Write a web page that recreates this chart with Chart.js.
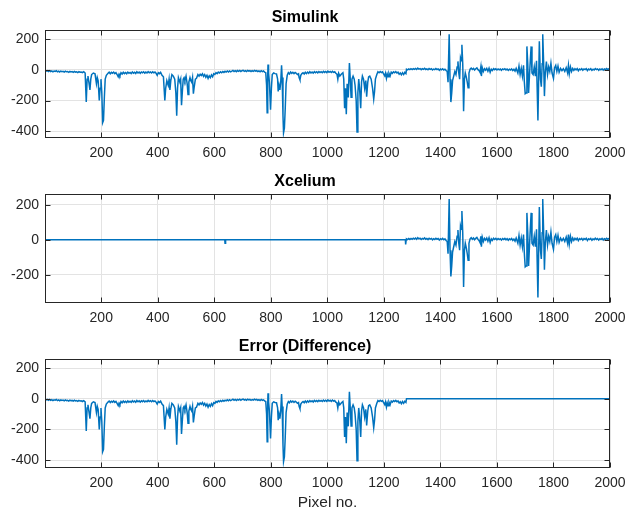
<!DOCTYPE html>
<html>
<head>
<meta charset="utf-8">
<script src="https://cdn.jsdelivr.net/npm/chart.js@4/dist/chart.umd.min.js"></script>
<style>
  body { margin: 0; background: #fff; }
  .box { position: absolute; left: 0; width: 626px; }
</style>
</head>
<body>
<div class="box" style="top:0px"><canvas id="simChart" width="626" height="163"></canvas></div>
<div class="box" style="top:164px"><canvas id="xcelChart" width="626" height="165"></canvas></div>
<div class="box" style="top:329px"><canvas id="errChart" width="626" height="184"></canvas></div>
<script>
// x ticks / y ticks
const xTicks = [200, 400, 600, 800, 1000, 1200, 1400, 1600, 1800, 2000]
const yTicksWide = [-400, -200, 0, 200]
const yTicksNarrow = [-200, 0, 200]

// Simulink output, pixels 1..1279
const simulinkLeft = [
  [1, -2], [5, -8], [9, -4], [13, -10], [17, -5], [21, -11], [25, -6], [29, -12], [33, -7], [37, -9],
  [41, -5], [45, -12], [49, -8], [53, -13], [57, -7], [61, -11], [65, -9], [69, -14], [73, -8], [77, -12],
  [81, -10], [85, -15], [89, -9], [93, -13], [97, -11], [101, -16], [105, -10], [109, -14], [113, -12],
  [117, -17], [121, -11], [125, -15], [129, -13], [133, -18], [138, -12], [143, -20],
  [147, -210], [150, -60], [153, -40], [157, -90], [160, -130], [163, -60], [166, -30], [172, -20],
  [178, -25], [183, -90], [186, -50], [189, -70], [193, -200], [196, -120], [199, -60], [202, -150],
  [205, -345], [208, -330], [211, -180], [214, -60], [218, -35],
  [224, -22], [228, -15], [232, -25], [236, -16], [240, -22], [244, -14], [248, -24], [252, -18],
  [256, -30], [260, -45], [263, -28], [266, -38], [270, -18], [274, -26], [278, -15], [282, -24],
  [286, -17], [290, -25], [294, -14], [298, -22], [302, -16], [306, -24], [310, -13], [314, -21],
  [318, -15], [322, -23], [326, -12], [330, -20], [334, -14], [338, -22], [342, -13], [346, -19],
  [350, -12], [354, -21], [358, -14], [362, -20], [366, -11], [370, -18], [374, -13], [378, -20],
  [382, -12], [386, -19], [390, -14], [394, -22], [398, -35], [402, -18], [406, -24], [410, -16],
  [415, -35], [420, -45], [425, -200], [428, -120],
  [432, -70], [437, -100], [440, -60], [443, -130], [446, -70], [450, -30], [455, -40], [460, -60],
  [464, -150], [467, -300], [470, -120], [473, -50], [478, -80], [481, -60], [484, -230], [487, -140],
  [490, -60], [493, -50], [496, -70], [500, -40], [504, -90], [507, -160], [510, -80], [514, -50],
  [517, -70], [520, -80], [523, -50], [526, -155], [529, -110], [533, -60], [537, -55],
  [542, -30], [546, -40], [550, -28], [554, -36], [558, -25], [562, -42], [566, -30], [570, -48],
  [574, -35], [578, -55], [582, -38], [586, -50], [590, -32], [594, -45], [598, -25], [602, -30],
  [606, -18], [610, -24], [614, -14], [618, -20], [622, -12], [626, -18], [630, -10], [634, -16],
  [638, -9], [642, -14], [646, -7], [650, -13], [654, -6], [658, -12], [662, -8], [666, -3],
  [670, -10], [674, -5], [678, -11], [682, -4], [686, -9], [690, -3], [694, -10], [698, -5],
  [702, -2], [706, -9], [710, -4], [714, -10], [718, -3], [722, -8], [726, -4], [730, -10],
  [734, -5], [738, -9], [742, -3], [746, -8], [750, -4], [754, -10], [758, -6], [762, -12],
  [766, -5], [770, -11], [774, -7], [778, -14], [782, -18],
  [785, -100], [787, -280], [789, -40],
  [790, 35], [792, -20], [795, -80], [799, -260], [802, -120], [805, -30], [810, -20], [815, -24],
  [820, -26], [824, -60], [826, -140], [829, -100], [832, -130], [835, -80], [838, 30], [840, -50],
  [843, -300], [845, -410], [848, -380], [851, -250], [854, -90],
  [858, -35], [862, -18], [866, -26], [870, -14], [874, -22], [878, -15], [882, -24], [886, -16],
  [890, -22], [894, -30], [898, -25], [900, -50], [903, -65], [906, -35], [910, -24], [914, -18],
  [918, -26], [922, -15], [926, -24], [930, -14], [934, -22], [938, -12], [942, -20], [946, -13],
  [950, -21], [954, -11], [958, -18], [962, -12], [966, -19], [970, -10], [974, -17], [978, -11],
  [982, -18], [986, -9], [990, -16], [994, -10], [998, -17], [1002, -8], [1006, -15], [1010, -10],
  [1014, -17], [1018, -9], [1022, -16], [1026, -12], [1030, -22],
  [1034, -28], [1037, -60], [1040, -22], [1044, -40], [1050, -26],
  [1055, -18], [1058, -60], [1061, -250], [1064, -120], [1067, -290], [1070, -90], [1074, -180], [1078, 46],
  [1081, -60], [1084, -178], [1087, -60], [1091, -40], [1095, -60], [1098, -100], [1102, -200], [1105, -405],
  [1108, -150], [1111, -60], [1114, -120], [1118, -250], [1121, -80], [1124, -40], [1128, -60], [1132, -120],
  [1136, -70], [1139, -175], [1143, -80], [1146, -45], [1150, -40], [1155, -60], [1160, -120], [1164, -190],
  [1167, -140], [1170, -60],
  [1175, -30], [1179, -12], [1183, -18], [1187, -10], [1191, -17], [1195, -12], [1199, -25], [1203, -38],
  [1206, -20], [1209, -55], [1212, -28], [1215, -45], [1218, -22], [1222, -40], [1226, -15], [1230, -22],
  [1234, -12], [1238, -18], [1242, -11], [1246, -20], [1250, -14], [1254, -28], [1258, -20], [1262, -32],
  [1266, -18], [1270, -30], [1274, -16], [1278, -24]
]

// Simulink output, pixels 1280..2000 (identical in Xcelium)
const simulinkRight = [
  [1280, 5], [1284, 1], [1288, 7], [1292, 2], [1296, 8], [1300, 3], [1304, 9], [1308, 4], [1312, 10],
  [1316, 3], [1320, 12], [1324, 5], [1328, 9], [1332, 2], [1336, 8], [1340, 4], [1344, 11], [1348, 3],
  [1352, 7], [1356, 1], [1360, 9], [1364, 4], [1368, 8], [1372, 0], [1376, 6], [1380, 2], [1384, 9],
  [1388, 3], [1392, 7], [1396, -2], [1400, 6], [1404, 1], [1408, 8], [1412, 0], [1416, 5], [1420, -4],
  [1424, -10], [1427, -80], [1431, 234],
  [1434, -60], [1437, -210], [1440, -150], [1443, -70], [1447, -40], [1451, -10], [1455, -30], [1459, 20],
  [1462, 56], [1465, -20], [1468, -60], [1471, 80], [1474, 60], [1476, 165], [1479, 40], [1482, -270],
  [1485, -60], [1488, -20], [1492, -50], [1495, -80], [1498, -117], [1501, -20],
  [1505, 5], [1509, 12], [1513, 3], [1517, 10], [1521, 0], [1525, 8], [1529, 14], [1533, 2], [1537, -5],
  [1540, -15], [1543, 20], [1545, -40], [1548, 15], [1552, -10], [1556, 8], [1560, -2], [1564, 10],
  [1568, -8], [1572, 12], [1576, -15], [1580, 5], [1584, -3], [1588, 9], [1592, 2], [1596, 8], [1600, 0],
  [1604, 7], [1608, 1], [1612, 6], [1616, -2], [1620, 7], [1624, 2], [1628, 8], [1632, 0], [1636, 6],
  [1640, -3], [1644, 5], [1648, 0], [1652, 7], [1656, -4], [1660, 4], [1664, -8], [1668, 10],
  [1674, -20], [1678, 25],
  [1682, -30], [1686, 10], [1690, -40], [1694, 30], [1697, -80], [1700, -155], [1703, -150], [1706, 154],
  [1709, 40], [1712, -150], [1715, -40], [1718, 60], [1721, 154], [1724, -20], [1728, -30], [1732, 20],
  [1736, -40], [1740, 60], [1745, -330], [1750, 187], [1754, -60], [1757, -110], [1760, 40], [1762, 234],
  [1765, 60], [1768, -171], [1771, -20], [1775, 55], [1779, -30], [1783, 20], [1787, -10], [1791, 45],
  [1795, -20], [1800, -55], [1804, 15], [1808, 30], [1812, -10], [1816, 25], [1820, -15], [1825, 10],
  [1830, -5], [1835, 8], [1840, -10], [1845, 15], [1850, -20], [1853, 30], [1856, -25],
  [1860, 20], [1864, -10], [1868, 10], [1872, -3], [1876, 8], [1880, 0], [1884, 9], [1888, -5],
  [1892, 6], [1896, 1], [1900, 8], [1904, -2], [1908, 7], [1912, 2], [1916, 9], [1920, -4], [1924, 6],
  [1928, 1], [1932, 8], [1936, -3], [1940, 5], [1944, 0], [1948, 9], [1952, 2], [1956, 7], [1960, -2],
  [1964, 6], [1968, 1], [1972, 8], [1976, -1], [1980, 6], [1984, 2], [1988, 9], [1992, 3], [1996, 7],
  [2000, 4]
]

// Xcelium output before 1280 is flat apart from two small dips
const xceliumLeft = [[1, 0], [637, 0], [638, -20], [640, 0], [1276, 0], [1277, -27], [1279, 0]]
// Error after 1280 is zero
const errorRight = [[1280, 0], [2000, 0]]

const toXY = (arr) => arr.map((p) => ({ x: p[0], y: p[1] }))
const FONT = 'Liberation Sans, Arial, Helvetica, sans-serif'

const boxPlugin = {
  id: 'matlabBox',
  afterDraw(chart) {
    const { ctx, chartArea: a, scales } = chart
    const L = Math.round(a.left) + 0.5
    const R = Math.round(a.right) - 0.5
    const T = Math.round(a.top) + 0.5
    const B = Math.round(a.bottom) - 0.5
    ctx.save()
    ctx.strokeStyle = '#262626'
    ctx.lineWidth = 1
    ctx.strokeRect(L, T, R - L, B - T)
    ctx.beginPath()
    scales.x.ticks.forEach((t) => {
      const px = Math.round(scales.x.getPixelForValue(t.value)) + 0.5
      ctx.moveTo(px, B); ctx.lineTo(px, B - 5)
      ctx.moveTo(px, T); ctx.lineTo(px, T + 5)
    })
    scales.y.ticks.forEach((t) => {
      const py = Math.round(scales.y.getPixelForValue(t.value)) + 0.5
      ctx.moveTo(L, py); ctx.lineTo(L + 5, py)
      ctx.moveTo(R, py); ctx.lineTo(R - 5, py)
    })
    ctx.stroke()
    ctx.restore()
  },
}

function makeChart(id, title, points, yMin, yMax, yTicks, xAxisHeight, xLabel) {
  const ctx = document.getElementById(id).getContext('2d')
  return new Chart(ctx, {
    type: 'line',
    data: {
      datasets: [
        {
          data: toXY(points),
          borderColor: '#0072BD',
          borderWidth: 1.5,
          pointRadius: 0,
          tension: 0,
        },
      ],
    },
    options: {
      responsive: false,
      animation: false,
      layout: { padding: { left: 0, right: 16, top: 0, bottom: 0 } },
      plugins: {
        legend: { display: false },
        tooltip: { enabled: false },
        title: {
          display: true,
          text: title,
          color: '#000',
          font: { family: FONT, size: 16, weight: 'bold' },
          padding: { top: 8, bottom: 3 },
        },
      },
      scales: {
        x: {
          type: 'linear',
          min: 1,
          max: 2000,
          afterBuildTicks: (s) => { s.ticks = xTicks.map((v) => ({ value: v })) },
          afterFit: (s) => { s.height = xAxisHeight; s.paddingRight = 0; s.paddingLeft = 0 },
          grid: { color: '#e3e3e3', drawTicks: false },
          border: { display: false },
          ticks: {
            color: '#262626',
            padding: 7,
            maxRotation: 0,
            autoSkip: false,
            callback: (v) => String(v),
            font: { family: FONT, size: 14 },
          },
          title: {
            display: !!xLabel,
            text: xLabel || '',
            color: '#262626',
            font: { family: FONT, size: 15.5 },
            padding: { top: 0, bottom: 1 },
          },
        },
        y: {
          min: yMin,
          max: yMax,
          afterBuildTicks: (s) => { s.ticks = yTicks.map((v) => ({ value: v })) },
          afterFit: (s) => { s.width = 45 },
          grid: { color: '#e3e3e3', drawTicks: false },
          border: { display: false },
          ticks: {
            color: '#262626',
            padding: 6,
            callback: (v) => String(v),
            font: { family: FONT, size: 14 },
          },
        },
      },
    },
    plugins: [boxPlugin],
  })
}

makeChart('simChart', 'Simulink', simulinkLeft.concat(simulinkRight), -445, 260, yTicksWide, 25)
makeChart('xcelChart', 'Xcelium', xceliumLeft.concat(simulinkRight), -362, 261, yTicksNarrow, 26)
makeChart('errChart', 'Error (Difference)', simulinkLeft.concat(errorRight), -452, 258, yTicksWide, 45, 'Pixel no.')
</script>
</body>
</html>
